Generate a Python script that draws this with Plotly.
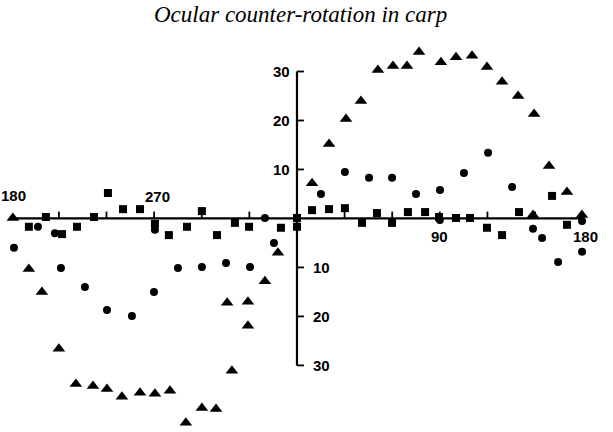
import plotly.graph_objects as go

# Angles: 180..360 on the left half are stored as -180..0
tri_x = [-179, -168.9, -160.7, -150, -139.3, -128.5, -119.7, -110.3, -98.9, -89.5, -80, -70, -59.9, -51,
         -41, -44, -30.9, -30.9, -20.2, -12.0,
         9.5, 20.2, 30.9, 40.3, 51, 60.5, 69.3, 76.9, 90.7, 100.2, 110.3, 119.7, 129.2, 139.3, 149.4,
         158.8, 170.1, 179.5, 148.7]
tri_y = [0.1, -10.3, -15, -26.6, -33.8, -34.2, -34.8, -36.4, -35.6, -35.8, -35.2, -41.7, -38.7, -38.9,
         -31.1, -17.2, -17.0, -21.9, -12.8, -7.0,
         7.2, 15.2, 20.3, 24, 30.3, 31.1, 31.1, 34, 31.9, 32.9, 33.2, 30.9, 27.9, 25, 21.3,
         10.7, 5.4, 0.7, 0.7]

circ_x = [-163.2, -152.5, -178.3, -148.7, -133.6, -119.7, -104, -90.1, -89.5, -75, -59.9, -44.7, -29.6,
          -20.2, -14.5, 0,
          15.1, 30.2, 45.4, 59.9, 75, 90.1, 90.0, 105.2, 120.4, 135.5, 148.7, 154.4, 164.5, 179.6, 179.6]
circ_y = [-1.7, -3.0, -6.0, -10.1, -14, -18.7, -19.9, -15, -2.3, -10.1, -9.9, -9.1, -9.9,
          0.1, -5.0, 0,
          5.0, 9.5, 8.3, 8.3, 5.0, 5.8, -0.3, 9.3, 13.4, 6.4, -2.1, -4.0, -8.9, -6.8, -0.5]

sq_x = [-168.9, -158.2, -148, -138.6, -127.9, -119.1, -109.6, -98.9, -89.5, -80.7, -69.3, -59.9, -50.4,
        -39.1, -30.2, -10.1, 0, 0,
        9.5, 20.2, 30.2, 41, 50.4, 59.9, 69.9, 80.7, 89.5, 100.2, 109, 119.7, 129.2, 139.9, 160.7, 170.1]
sq_y = [-1.7, 0.3, -3.2, -1.7, 0.3, 5.2, 1.9, 1.9, -1.1, -3.4, -1.7, 1.5, -3.4,
        -0.9, -1.7, -1.9, -1.7, 0.1,
        1.7, 1.9, 2.1, -0.9, 1.1, -0.9, 1.3, 1.3, 0.3, 0.1, 0.1, -1.9, -3.4, 1.3, 4.6, -1.3]

x_ticks = [-150, -120, -90, -60, -30, 30, 60, 90, 120, 150]
y_ticks = [-30, -20, -10, 10, 20, 30]
x_labels = [(-178.3, 4.6, "180"), (-87.6, 4.4, "270"), (90.1, -3.6, "90"), (182, -3.6, "180")]

fig = go.Figure()
fig.add_trace(go.Scatter(x=tri_x, y=tri_y, mode="markers",
                         marker=dict(symbol="triangle-up", size=11, color="black")))
fig.add_trace(go.Scatter(x=circ_x, y=circ_y, mode="markers",
                         marker=dict(symbol="circle", size=8, color="black")))
fig.add_trace(go.Scatter(x=sq_x, y=sq_y, mode="markers",
                         marker=dict(symbol="square", size=8, color="black")))

shapes = [
    dict(type="line", x0=-180, x1=180, y0=0, y1=0, line=dict(color="black", width=2.2)),
    dict(type="line", x0=0, x1=0, y0=-30, y1=30, line=dict(color="black", width=2.2)),
]
for t in x_ticks:
    shapes.append(dict(type="line", x0=t, x1=t, y0=0, y1=1.4, line=dict(color="black", width=1.8)))
for t in y_ticks:
    shapes.append(dict(type="line", x0=0, x1=4.4, y0=t, y1=t, line=dict(color="black", width=1.8)))

annotations = []
lab_font = dict(family="Liberation Sans", size=15, color="black", weight="bold")
for t in y_ticks:
    if t > 0:
        annotations.append(dict(x=-3, y=t, text=str(t), showarrow=False, xanchor="right",
                                yanchor="middle", font=lab_font))
    else:
        annotations.append(dict(x=9, y=t, text=str(-t), showarrow=False, xanchor="left",
                                yanchor="middle", font=lab_font))
for xx, yy, txt in x_labels:
    annotations.append(dict(x=xx, y=yy, text=txt, showarrow=False, xanchor="center",
                            yanchor="middle", font=lab_font))
annotations.append(dict(x=300 / 613, y=1 - 14 / 432, xref="paper", yref="paper",
                        text="<i>Ocular counter-rotation in carp</i>",
                        showarrow=False, xanchor="center", yanchor="middle",
                        font=dict(family="Liberation Serif", size=23, color="black")))

fig.update_layout(
    width=613, height=432,
    margin=dict(l=0, r=0, t=0, b=0),
    paper_bgcolor="white", plot_bgcolor="white",
    showlegend=False,
    xaxis=dict(range=[-187.1, 199.1], visible=False),
    yaxis=dict(range=[-43.6, 44.6], visible=False),
    shapes=shapes,
    annotations=annotations,
)
fig.write_html("out.html")
